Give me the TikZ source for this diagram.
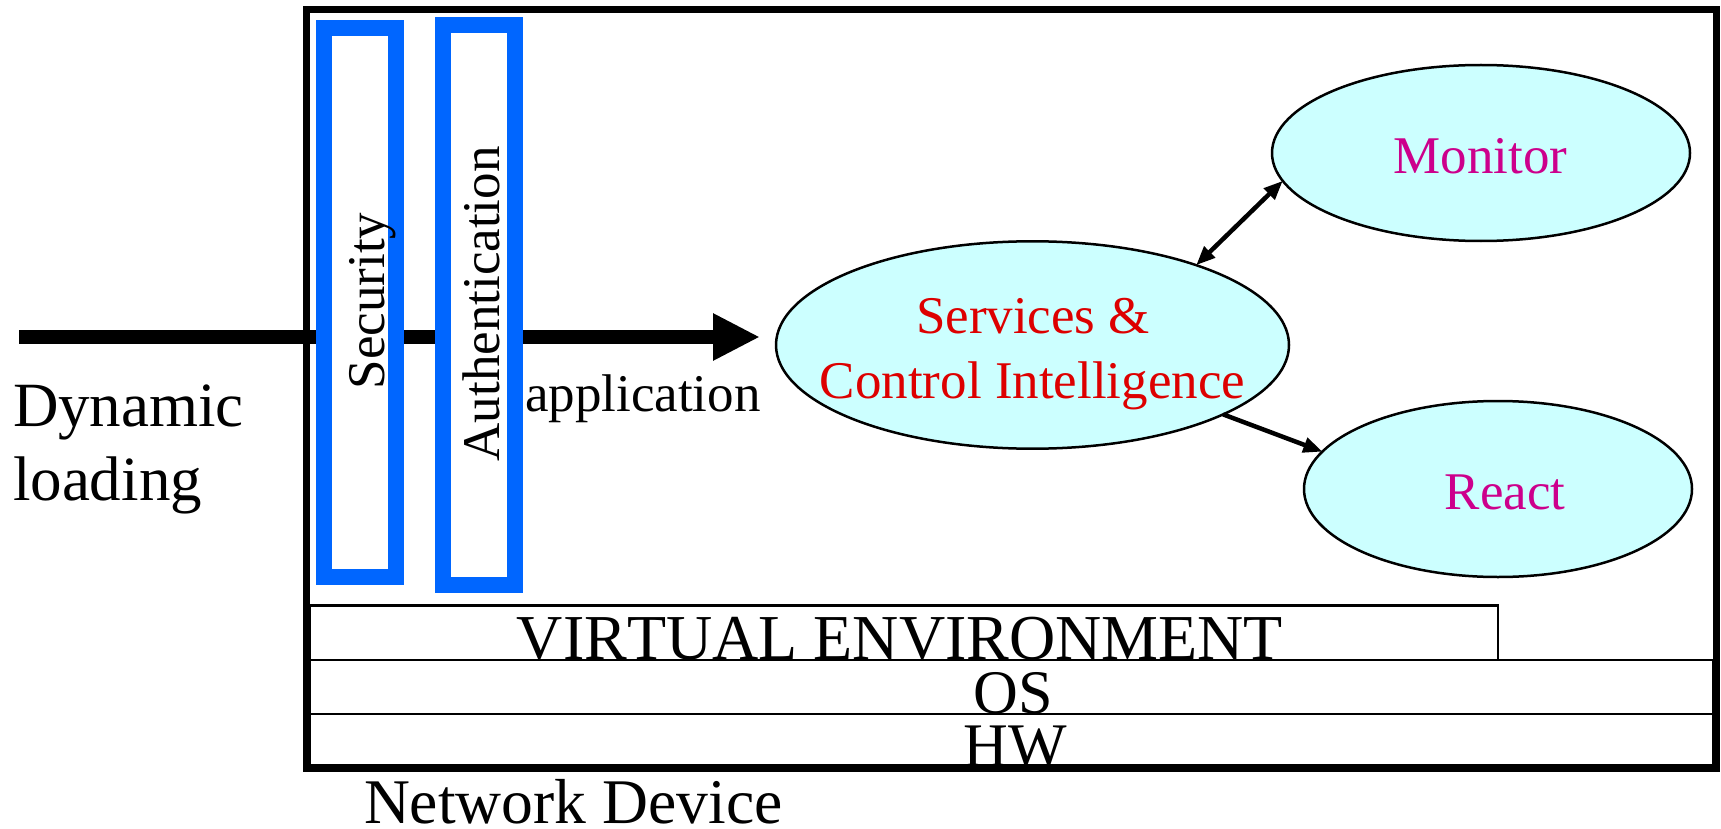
\documentclass[tikz,border=0pt]{standalone}
\usepackage{fontspec}
\setmainfont[Kerning=Off]{Liberation Serif}
\usetikzlibrary{arrows.meta,shapes.geometric}
\definecolor{gateblue}{RGB}{0,102,255}
\definecolor{bubblefill}{RGB}{204,255,255}
\definecolor{svcred}{RGB}{221,0,0}
\definecolor{actmagenta}{RGB}{204,0,140}
\begin{document}
\begin{tikzpicture}[x=1pt,y=-1pt,
  bigtext/.style={font=\fontsize{62}{70}\selectfont, inner sep=0pt, outer sep=0pt},
  midtext/.style={font=\fontsize{53}{60}\selectfont, inner sep=0pt, outer sep=0pt},
  layer/.style={draw=black, line width=2.8pt},
  devbox/.style={draw=black, line width=7pt, rectangle, inner sep=0pt, outer sep=0pt},
  gate/.style={draw=gateblue, fill=white, line width=16pt, rectangle, inner sep=0pt, outer sep=0pt},
  bubble/.style={draw=black, fill=bubblefill, line width=2.5pt, ellipse, inner sep=0pt, outer sep=0pt},
  bigarrow/.style={line width=14pt, -{Triangle[length=47pt,width=44pt]}},
  duo/.style={line width=4.5pt, {Triangle[length=19pt,width=15pt]}-{Triangle[length=19pt,width=15pt]}},
  one/.style={line width=4.5pt, -{Triangle[length=19pt,width=15pt]}}
]
\useasboundingbox (0,0) rectangle (1721,829);

% software / hardware layers at the bottom of the device
\draw[layer] (309.5,605.7) rectangle (1498,660);
\draw[layer] (309.5,660) rectangle (1713,714);
\draw[layer] (309.5,714) rectangle (1713,765);
\node[bigtext, font=\fontsize{64}{72}\selectfont, anchor=base] (ve) at (900,659) {VIRTUAL ENVIRONMENT};
\node[bigtext, anchor=base] (os) at (1013,713) {OS};
\node[bigtext, anchor=base] (hw) at (1015,766) {HW};

% the network device frame
\node[devbox, minimum width=1410pt, minimum height=758.5pt] (dev) at (1011,388.75) {};
\node[bigtext, font=\fontsize{63.6}{72}\selectfont, anchor=base west] (devlabel) at (364,823) {Network Device};

% control services
\node[bubble, minimum width=513pt, minimum height=207.4pt] (svc) at (1032.5,345) {};
\node[midtext, anchor=base, text=svcred] (svc1) at (1033,333) {Services \&};
\node[midtext, anchor=base, text=svcred] (svc2) at (1032.5,398) {Control Intelligence};

\node[bubble, minimum width=418pt, minimum height=176pt] (mon) at (1481,153) {};
\node[midtext, anchor=base, text=actmagenta] (montxt) at (1480.5,174) {Monitor};

\node[bubble, minimum width=388pt, minimum height=176pt] (rea) at (1498,489) {};
\node[midtext, anchor=base, text=actmagenta] (reatxt) at (1505,509) {React};

\draw[duo] (svc.26.2) -- (mon.-172.8);
\draw[one] (svc.-20.6) -- (rea.168.3);

% incoming application path
\coordinate (src) at (19,337);
\draw[bigarrow, shorten >=16pt] (src) -- (src -| svc.west);
\node[bigtext, font=\fontsize{63}{72}\selectfont, anchor=base west] (dyn1) at (13,426) {Dynamic};
\node[bigtext, font=\fontsize{63}{72}\selectfont, anchor=base west] (dyn2) at (13,500) {loading};
\node[midtext, anchor=base west] (app) at (525,411) {application};

% admission gates
\node[gate, minimum width=71.7pt, minimum height=549pt] (sec) at (360,302.5) {};
\node[gate, minimum width=72.3pt, minimum height=559.5pt] (auth) at (478.65,304.75) {};
\node[midtext, rotate=90, anchor=base] (sectxt) at (384,301) {Security};
\node[midtext, rotate=90, anchor=base] (authtxt) at (499,304) {Authentication};
\end{tikzpicture}
\end{document}
